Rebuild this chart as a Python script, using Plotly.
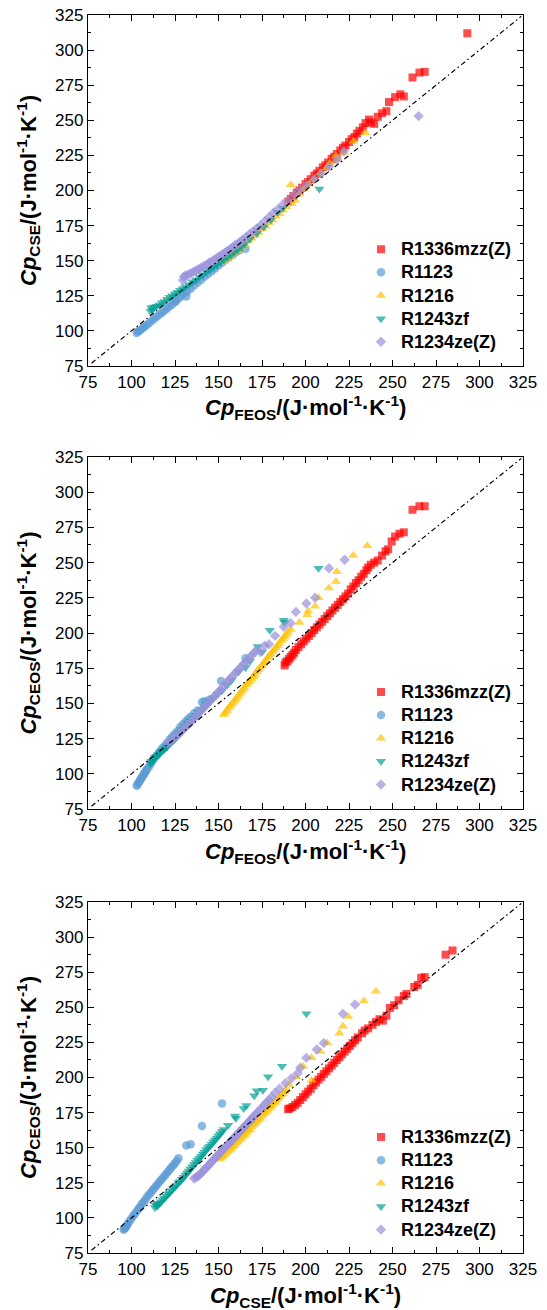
import plotly.graph_objects as go

# ---------------- data ----------------
names = ["R1336mzz(Z)", "R1123", "R1216", "R1243zf", "R1234ze(Z)"]
colors = ["rgb(255,0,0)", "rgb(91,155,213)", "rgb(255,192,0)", "rgb(0,160,150)", "rgb(155,145,220)"]
symbols = ["square", "circle", "triangle-up", "triangle-down", "diamond"]
sizes = [8, 8.5, 9, 9, 8]

diag = [77, 324]

# Panel 1: x = Cp_FEOS, y = Cp_CSE
p1_R1336 = [(190,192),(191.5,194),(193,196),(195,198.5),(196.5,200),(198,202),(200,204.5),(201.5,206),(203,208),(205,210.5),(206.5,212),(208,214),(210,216.5),(211.5,218),(213,220),(215,222.5),(216.5,224),(218,226),(220,228.5),(221.5,230.5),(223,232),(225,234.5),(226.5,236.5),(228,238),(229.5,240.5),(231,242.5),(233,245),(234.5,248),(236.5,250.5),(237.5,248.5),(239.5,247.5),(241.5,252.5),(244,255),(246.5,256.5),(248,263),(251.5,266.5),(254.5,268.5),(256.5,267),(261.5,280.5),(265.5,284),(268.5,284.5),(293,312)]
p1_R1123 = [(103,98.5),(103.5,99.5),(104.5,100),(105.5,101),(106.5,102),(107.5,103),(108.5,104),(110,105.5),(111.5,107),(113,108.5),(114.5,110),(116,111.5),(117.5,113),(119,114.5),(120.5,116),(122,117.5),(123.5,119),(125,121),(125.5,121),(127,123),(128.5,124.5),(130,126.5),(131.5,124.5),(132,128),(134,130),(136,132.5),(138,134.5),(140,136.5),(142,138.5),(144,140.5),(146,142.5),(148,144.5),(150,146.5),(152,148.5),(154,150.5),(156,152.5),(158,154),(160,156),(162,157.5),(165.5,158.5)]
p1_R1216 = [(153,149),(155,151),(157,153),(159,155),(161,157),(163,159.5),(165,161.5),(167,164),(169,166),(171,168),(173,170),(175,172.5),(177,174.5),(179,177),(181,179),(183,181.5),(185,183.5),(187,186),(189,188.5),(191.5,204),(192,190.5),(194,193),(196.5,197.5),(199,201),(202,204.5),(205,208),(208.5,212.5),(212,216),(214,219.5),(217.5,224.5),(218.5,222),(222,227),(227.5,235),(234.5,241)]
p1_R1243zf = [(111,114),(111.5,116.5),(112,115),(113,117),(114.5,117.5),(116,118.5),(117.5,120),(119,121),(120.5,122.5),(122,124),(123.5,125),(125,126.5),(126.5,127.5),(128,129),(129.5,130),(131,131.5),(133,133),(135,135),(137,136.5),(139,138.5),(141,140),(143,142),(145,143.5),(147,145.5),(149,147),(151,149),(153,150.5),(155,152.5),(157,154),(159,156),(161,158),(163,160),(165,162),(168,165.5),(172,169.5),(176,174),(180,179),(184,184.5),(187,187.5),(208,201)]
p1_R1234ze = [(129.5,136),(130,138.5),(131,139.5),(132.5,140),(134,141),(135.5,142),(137,143),(138.5,144),(140,145),(141.5,146),(143,147),(144.5,148.5),(146,149.5),(147.5,150.5),(149,152),(150.5,153),(152,154.5),(153.5,155.5),(155,157),(156.5,158),(158,159.5),(159.5,161),(161,162),(162.5,163.5),(164,165),(166,167),(168,169),(170,171),(172,173),(174,175),(176.5,178),(179,181),(181.5,184),(184,186.5),(187,190),(190,193),(193.5,197),(197,200.5),(200.5,204),(205,208),(209,212),(213.5,217),(218,222),(222,228),(265,253)]

# Panel 2: x = Cp_FEOS, y = Cp_CEOS
p2_R1336 = [(188,177),(188.5,179),(189.5,180),(190.5,181.5),(191.5,183),(192.5,184.5),(193.5,186),(194.5,188),(196,190),(197.5,192),(199,194),(200.5,196),(202,198),(203.5,200),(205,202),(206.5,204),(208,206),(209.5,208),(211,210),(212.5,212),(214,214),(215.5,216),(217,218),(218.5,220),(220,222),(221.5,224),(223,226),(224.5,228),(226,231),(227.5,233),(229,235.5),(230.5,237.5),(232,240),(233.5,242),(235,244.5),(236,246.5),(237.5,248.5),(239.5,250),(241.5,251.5),(244,255),(246,258),(247.5,259.5),(249.5,265),(251.5,268.5),(254,270.5),(256.5,271.5),(261.5,287.5),(265.5,290),(268.5,290)]
p2_R1123 = [(103,91.5),(103.5,92.5),(104,93.5),(104.5,94.5),(105,95.5),(105.5,96.5),(106,97.5),(106.5,98.5),(107,99.5),(107.5,100.5),(108,101.5),(108.5,102.5),(109,103.5),(110,105),(111,107),(112,109),(113,111),(114.5,113),(116,115.5),(117.5,118),(119,120),(120.5,122),(122,124.5),(123.5,126.5),(125,128.5),(126.5,130.5),(128,133),(129.5,135),(131,137),(132.5,139),(134,140.5),(136,143),(138,145),(140.5,151),(142,151.5),(144.5,152.5),(151.5,166),(165.5,182)]
p2_R1216 = [(153,142),(154,143.5),(155,145),(156,147),(157,148.5),(158,150),(159,151.5),(160,153),(161,154.5),(162,156.5),(163,158),(164,159.5),(165,161),(166,163),(167,164.5),(168,166),(169,167.5),(170,169),(171,170.5),(172,172.5),(173,174),(174,175.5),(175,177),(176,178.5),(177,180),(178,182),(179,183.5),(180,185),(181,186.5),(182,188),(183,189.5),(184,191),(185,192.5),(186,194.5),(187,196),(188,197.5),(189,199),(190,200.5),(191.5,202.5),(196.5,207.5),(201.5,215.5),(201,213),(205.5,219),(207.5,225),(213.5,232),(217.5,236.5),(218,243.5),(227.5,255),(235.5,262)]
p2_R1243zf = [(111,107.5),(111.5,109),(112.5,110),(113.5,111.5),(114.5,112.5),(115.5,113.5),(116.5,115),(117.5,116),(118.5,117),(119.5,118),(120.5,119.5),(121.5,120.5),(122.5,122),(123.5,123),(124.5,124),(125.5,125.5),(127,127.5),(128.5,129.5),(130,131.5),(131.5,133.5),(133,135.5),(134.5,137.5),(136,139.5),(137.5,141.5),(139,143.5),(140.5,145.5),(142,147.5),(143.5,149.5),(145,151.5),(147,154),(149.5,156.5),(152,159),(155,163),(157.5,166.5),(161.5,172.5),(165.5,175.5),(168,180),(172.5,190.5),(175,186.5),(179.5,202),(187.5,209),(188,207.5),(207.5,246)]
p2_R1234ze = [(121,121.5),(122.5,123),(124,125),(125.5,126.5),(127,128),(128.5,130),(130,132),(131.5,133.5),(133,135.5),(134.5,137.5),(136,139.5),(137.5,141.5),(139,143.5),(140.5,145.5),(142,147.5),(143.5,149.5),(145,151.5),(146.5,153.5),(148,155.5),(149.5,157.5),(151,159.5),(152.5,161.5),(154,164),(155.5,166),(157,168),(158.5,170),(160,172),(161.5,174),(163,176),(164.5,178),(166,180),(167.5,182),(169,184),(170.5,186),(172,188),(174,186.5),(176.5,191),(179,192),(182.5,198),(187.5,204.5),(191.5,207),(194.5,215),(200.5,221),(205.5,225),(213.5,246),(222.5,252)]

# Panel 3: x = Cp_CSE, y = Cp_CEOS
p3_R1336 = [(190,177.5),(191,178),(192.5,179),(194,180.5),(195.5,182),(197,184),(198.5,186),(200,188),(201.5,190),(203,192),(204.5,194.5),(206,196.5),(207.5,198.5),(209,200.5),(210.5,202.5),(212,204.5),(213.5,206.5),(215,208.5),(216.5,210.5),(218,212.5),(219.5,214.5),(221,216.5),(222.5,218.5),(224,220.5),(225.5,222.5),(227,224.5),(228.5,226.5),(230,228.5),(232.5,231.5),(234,233.5),(236,235),(238.5,237.5),(240.5,239.5),(242.5,241.5),(244.5,240.5),(246.5,244),(248.5,249.5),(251,251.5),(253.5,255),(256.5,258),(258,259.5),(262.5,264.5),(264.5,266),(266.5,271),(268.5,271.5),(280.5,287.5),(284.5,290.5)]
p3_R1123 = [(95.5,91.5),(96,92.5),(96.5,93),(97,94),(97.5,95),(98,96),(99,98),(100,99.5),(101,101.5),(102,103),(103,105),(104,106.5),(105,108),(106,110),(107,111.5),(108,113),(109,115),(110,116.5),(111,118),(112,119.5),(113,121),(114,122.5),(115,124),(116,125.5),(117,127),(118,128.5),(119,130),(120,131.5),(121,133),(122,134.5),(123,136),(124,137.5),(125,139),(126,140.5),(127,142.5),(131.5,151.5),(134,152.5),(140.5,165.5),(152,181.5)]
p3_R1216 = [(150,142),(151,142.5),(152,143.5),(153,144.5),(154,145.5),(155,147),(156,148),(157,149),(158,150.5),(159,151.5),(160,153),(161,154),(162,155.5),(163,156.5),(164,158),(165,159),(166,160.5),(167,162),(168,163),(169,164.5),(170,166),(171,167),(172,168.5),(173,170),(174,171),(175,172.5),(176,174),(177,175),(178,176.5),(179,178),(180,179),(181,180.5),(182,182),(183,183),(184,184.5),(185,186),(186,187.5),(187,188.5),(188,190),(189,191.5),(190.5,195),(194.5,200.5),(198.5,208),(203.5,198),(203.5,214),(208.5,218.5),(212.5,224.5),(219.5,231.5),(221.5,236.5),(224.5,243.5),(233.5,254.5),(240.5,261.5)]
p3_R1243zf = [(113.5,107.5),(114,109),(114.5,110.5),(115,108.5),(116,110),(117,111.5),(118,113),(119,114),(120,115.5),(121,117),(122,118),(123,119.5),(124,121),(125,122),(126,123.5),(127,125),(128,126),(129,127.5),(130,129),(131,130.5),(132,132),(133,133.5),(134,135),(135,136.5),(136,138),(137,139.5),(138,141),(139,142.5),(140,144),(141,145.5),(142,147),(143,148.5),(144,150),(145,151),(146,152.5),(147,154),(148,155.5),(149,157),(150,158.5),(151,160),(152,161.5),(153,163),(155.5,166),(159.5,172.5),(160,171),(164.5,178),(166,180),(170.5,187),(172,190.5),(175.5,191),(178.5,200.5),(186.5,208),(200.5,245.5)]
p3_R1234ze = [(136,128),(137,129),(138,129.5),(139,130.5),(140,132),(141,133),(142,134.5),(143,136),(144,137),(145,138.5),(146,140),(147,141),(148,142.5),(149,144),(150,145),(151,146.5),(152,148),(153,149),(154,150.5),(155,152),(156,153),(157,154.5),(158,156),(159,157),(160,158.5),(161,160),(162,161),(163,162.5),(164,164),(165,165),(166,166.5),(167,168),(168,169),(169,170.5),(170,172),(171.5,174),(173,176),(174.5,178),(176,180),(177.5,182),(179,184),(180.5,186),(182.5,189),(185,192),(188.5,196),(192,199.5),(195.5,203),(197,207),(200.5,214),(206.5,220),(210.5,224.5),(221.5,245.5),(228.5,252)]

panels = [
    [p1_R1336, p1_R1123, p1_R1216, p1_R1243zf, p1_R1234ze],
    [p2_R1336, p2_R1123, p2_R1216, p2_R1243zf, p2_R1234ze],
    [p3_R1336, p3_R1123, p3_R1216, p3_R1243zf, p3_R1234ze],
]
x_titles = [
    "<i>Cp</i><sub>FEOS</sub>/(J·mol<sup>-1</sup>·K<sup>-1</sup>)",
    "<i>Cp</i><sub>FEOS</sub>/(J·mol<sup>-1</sup>·K<sup>-1</sup>)",
    "<i>Cp</i><sub>CSE</sub>/(J·mol<sup>-1</sup>·K<sup>-1</sup>)",
]
y_titles = [
    "<i>Cp</i><sub>CSE</sub>/(J·mol<sup>-1</sup>·K<sup>-1</sup>)",
    "<i>Cp</i><sub>CEOS</sub>/(J·mol<sup>-1</sup>·K<sup>-1</sup>)",
    "<i>Cp</i><sub>CEOS</sub>/(J·mol<sup>-1</sup>·K<sup>-1</sup>)",
]

# ---------------- layout ----------------
FONT = "Arial, Liberation Sans, sans-serif"
W, H = 547, 1310
ML, MR, MT, MB = 88, 24, 15, 57
y_domains = [[0.7165, 1.0], [0.3586, 0.6430], [0.0, 0.2835]]
x_title_shift = [-42, -42, -42]
legend_y = [0.8242, 0.4666, 0.1071]
legend_keys = ["legend", "legend2", "legend3"]

fig = go.Figure()

for p, series in enumerate(panels):
    sfx = "" if p == 0 else str(p + 1)
    for i, pts in enumerate(series):
        fig.add_trace(go.Scatter(
            x=[a for a, b in pts], y=[b for a, b in pts],
            mode="markers",
            name='<span style="font-size:18px">' + names[i] + "</span>",
            marker=dict(symbol=symbols[i], color=colors[i], size=sizes[i], opacity=0.7, line=dict(width=0)),
            xaxis="x" + sfx, yaxis="y" + sfx, legend=legend_keys[p],
        ))
    fig.add_trace(go.Scatter(
        x=diag, y=diag, mode="lines", showlegend=False, hoverinfo="skip",
        line=dict(color="black", width=1.2, dash="5px,3px,1.5px,3px"),
        xaxis="x" + sfx, yaxis="y" + sfx,
    ))


def axis(domain, anchor):
    return dict(
        domain=domain, anchor=anchor, range=[75, 325], automargin=False,
        tickmode="linear", tick0=75, dtick=25, ticklabeloverflow="allow",
        ticks="inside", ticklen=6, tickwidth=1.3, tickcolor="black",
        showline=True, linecolor="black", linewidth=1.3, mirror="ticks",
        showgrid=False, zeroline=False,
        minor=dict(ticks="inside", ticklen=3, tickwidth=1.2, tickcolor="black",
                   tick0=75, dtick=12.5, showgrid=False),
        tickfont=dict(size=17, color="black", family=FONT),
    )


title_font = dict(size=22, color="black", family=FONT, weight="bold")

layout = dict(
    template="none",
    width=W, height=H,
    margin=dict(l=ML, r=MR, t=MT, b=MB, autoexpand=False),
    paper_bgcolor="white", plot_bgcolor="white",
    font=dict(family=FONT, color="black"),
    annotations=[],
)
for p in range(3):
    sfx = "" if p == 0 else str(p + 1)
    xa = axis([0, 1], "y" + sfx)
    ya = axis(y_domains[p], "x" + sfx)
    ya["title"] = dict(text=y_titles[p], standoff=12, font=title_font)
    layout["xaxis" + sfx] = xa
    layout["yaxis" + sfx] = ya
    layout["annotations"].append(dict(
        text=x_titles[p], xref="paper", yref="paper", x=0.5, y=y_domains[p][0],
        xanchor="center", yanchor="middle", yshift=x_title_shift[p],
        showarrow=False, font=title_font,
    ))
    layout[legend_keys[p]] = dict(
        x=0.6276, xanchor="left", y=legend_y[p], yanchor="top",
        bgcolor="rgba(0,0,0,0)", borderwidth=0, tracegroupgap=0,
        font=dict(size=15.5, color="black", family=FONT, weight="bold"),
    )

fig.update_layout(**layout)
# remove the default page margin so the 547x1310 figure fills the window exactly
fig.write_html(
    "out.html",
    config={"displayModeBar": False},
    post_script="document.body.style.margin='0';document.body.style.overflow='hidden';",
)
